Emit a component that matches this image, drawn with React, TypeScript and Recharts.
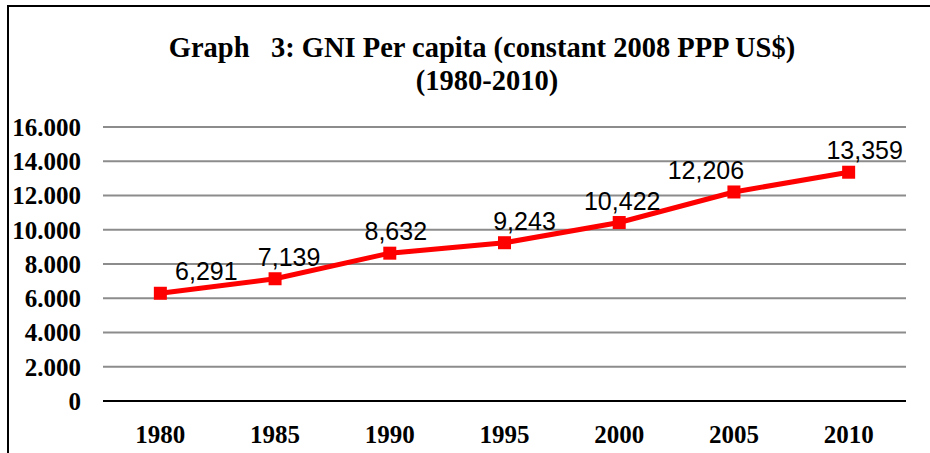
import React from "react";
import {
    LineChart,
    Line,
    XAxis,
    YAxis,
    CartesianGrid,
} from "recharts";

const years = ["1980", "1985", "1990", "1995", "2000", "2005", "2010"];
const gniPerCapita = [6291, 7139, 8632, 9243, 10422, 12206, 13359];
const yTicks = [0, 2000, 4000, 6000, 8000, 10000, 12000, 14000, 16000];

// horizontal nudges of the value labels, as placed in the original
const labelDx = [46, 14, 6, 20, 3, -28, 16];

const data = years.map((year, i) => ({ year, value: gniPerCapita[i] }));

const serif = '"Liberation Serif", "Times New Roman", serif';
const sans = '"Liberation Sans", Arial, sans-serif';

const fmtY = (v: number) => (v === 0 ? "0" : v.toLocaleString("de-DE"));
const fmtLabel = (v: number) => v.toLocaleString("en-US");

const Square = (props: any) => {
    const { cx, cy } = props;
    if (cx == null || cy == null) return null;
    return <rect x={cx - 6.5} y={cy - 6.5} width={13} height={13} fill="#ff0000" />;
};

const ValueLabel = (props: any) => {
    const { x, y, value, index } = props;
    return (
        <text
            x={x + (labelDx[index] || 0)}
            y={y - 13}
            textAnchor="middle"
            fontFamily={sans}
            fontSize={25}
            fill="#000"
        >
            {fmtLabel(value)}
        </text>
    );
};

const App: React.FC = () => {
    return (
        <div
            style={{
                position: "absolute",
                left: 0,
                top: 0,
                width: 930,
                height: 453,
                background: "#fff",
                overflow: "hidden",
            }}
        >
            <div
                style={{
                    position: "absolute",
                    left: 7,
                    top: 5,
                    width: 1000,
                    height: 500,
                    borderLeft: "2px solid #000",
                    borderTop: "2px solid #000",
                }}
            />
            <div
                style={{
                    position: "absolute",
                    left: 0,
                    top: 31,
                    width: 964,
                    textAlign: "center",
                    fontFamily: serif,
                    fontWeight: "bold",
                    fontSize: 28.5,
                    lineHeight: "33px",
                    whiteSpace: "pre",
                    color: "#000",
                }}
            >
                {"Graph   3: GNI Per capita (constant 2008 PPP US$)"}
                <br />
                <span style={{ position: "relative", left: 5 }}>{"(1980-2010)"}</span>
            </div>
            <div style={{ position: "absolute", left: 0, top: 0 }}>
                <LineChart
                    width={930}
                    height={453}
                    data={data}
                    margin={{ top: 127, right: 24, bottom: 0, left: 8 }}
                >
                    <CartesianGrid
                        vertical={false}
                        stroke="#8c8c8c"
                        strokeWidth={2}
                    />
                    <XAxis
                        dataKey="year"
                        scale="band"
                        height={52}
                        tickLine={false}
                        tickSize={0}
                        tickMargin={24}
                        axisLine={{ stroke: "#000", strokeWidth: 2 }}
                        tick={{
                            fill: "#000",
                            fontFamily: serif,
                            fontWeight: "bold",
                            fontSize: 25,
                        }}
                    />
                    <YAxis
                        width={95}
                        domain={[0, 16000]}
                        ticks={yTicks}
                        tickFormatter={fmtY}
                        axisLine={false}
                        tickLine={false}
                        tickSize={0}
                        tickMargin={22}
                        tick={{
                            fill: "#000",
                            fontFamily: serif,
                            fontWeight: "bold",
                            fontSize: 25,
                        }}
                    />
                    <Line
                        type="linear"
                        dataKey="value"
                        stroke="#ff0000"
                        strokeWidth={5}
                        dot={<Square />}
                        activeDot={false}
                        label={<ValueLabel />}
                        isAnimationActive={false}
                    />
                </LineChart>
            </div>
        </div>
    );
};

export default App;
